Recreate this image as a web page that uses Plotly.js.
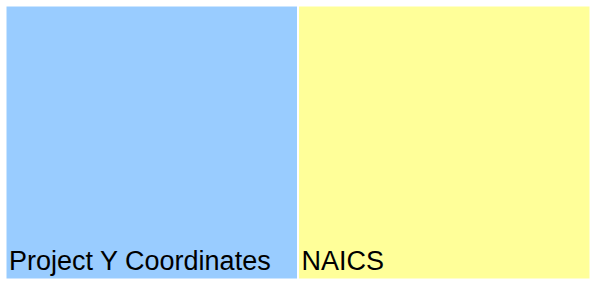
<!DOCTYPE html>
<html>
<head>
<meta charset="utf-8">
<script src="https://cdn.plot.ly/plotly-3.0.1.min.js"></script>
<style>html,body{margin:0;padding:0;background:#fff;}#chart{width:590px;height:282px;}</style>
</head>
<body>
<div id="chart"></div>
<script>
var labels = ["Project Y Coordinates", "NAICS"];
var parents = ["", ""];
var values = [1, 1];
var colors = ["#99ccff", "#ffff99"];

Plotly.newPlot("chart", [{
  type: "treemap",
  labels: labels,
  parents: parents,
  values: values,
  branchvalues: "total",
  sort: false,
  textinfo: "label",
  textposition: "bottom left",
  textfont: {family: "Liberation Sans, Arial, sans-serif", size: 27, color: "#000"},
  marker: {colors: colors, line: {color: "#fff", width: 1}, pad: {t: 0, l: 0, r: 0, b: 0}},
  pathbar: {visible: false},
  tiling: {packing: "squarify", pad: 1},
  domain: {x: [0, 1], y: [0, 1]},
  hoverinfo: "label"
}], {
  width: 590, height: 282,
  margin: {l: 6, r: 0, t: 6, b: 3, pad: 0},
  paper_bgcolor: "#fff",
  showlegend: false
}, {displayModeBar: false, staticPlot: true});
</script>
</body>
</html>
